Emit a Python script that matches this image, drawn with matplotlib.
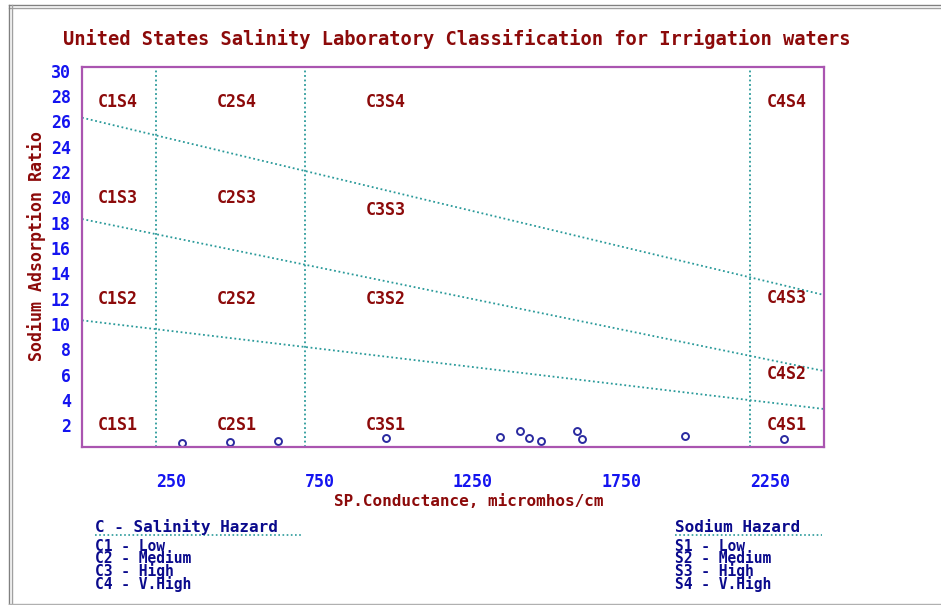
import numpy as np
import matplotlib
matplotlib.use("Agg")
import matplotlib.pyplot as plt
from matplotlib.lines import Line2D
from matplotlib.transforms import ScaledTranslation

# sample points (EC in micromhos/cm, SAR)
ec = [336, 497, 662, 1025, 1410, 1475, 1506, 1545, 1669, 1686, 2031, 2366]
sar = [0.29, 0.42, 0.50, 0.71, 0.81, 1.24, 0.73, 0.50, 1.24, 0.61, 0.84, 0.61]

# class boundaries
c_bounds = [250, 750, 2250]
s_bound_x = [0, 2500]
s_bounds = [[10, 3], [18, 6], [26, 12]]

x_ticks = [250, 750, 1250, 1750, 2250]
y_ticks = list(range(2, 31, 2))

zone_names = ["C1S4", "C2S4", "C3S4", "C4S4",
              "C1S3", "C2S3", "C3S3", "C4S3",
              "C1S2", "C2S2", "C3S2", "C4S2",
              "C1S1", "C2S1", "C3S1", "C4S1"]
zone_pos = [(121, 27.2), (523, 27.2), (1022, 27.2), (2375, 27.2),
            (121, 19.65), (523, 19.65), (1022, 18.7), (2375, 11.76),
            (121, 11.68), (523, 11.68), (1022, 11.68), (2375, 5.76),
            (121, 1.74), (523, 1.74), (1022, 1.74), (2375, 1.74)]

sal_title = "C - Salinity Hazard"
sal_items = ["C1 - Low", "C2 - Medium", "C3 - High", "C4 - V.High"]
sod_title = "Sodium Hazard"
sod_items = ["S1 - Low", "S2 - Medium", "S3 - High", "S4 - V.High"]

DARKRED = "#8c0a0a"
BLUE = "#1414f0"
NAVY = "#0a0a8c"
TEAL = "#2a9a9a"
PURPLE = "#aa55b0"
FONT = "DejaVu Sans Mono"

W, H = 941, 605
fig = plt.figure(figsize=(W / 100, H / 100), dpi=100)
fig.patch.set_facecolor("white")

def fx(px):
    return px / W

def fy(py):
    return 1 - py / H

ax = fig.add_axes([fx(82), fy(447), fx(824) - fx(82), fy(67) - fy(447)])
ax.set_xlim(0, 2500)
ax.set_ylim(0, 30)

for sp in ax.spines.values():
    sp.set_color(PURPLE)
    sp.set_linewidth(1.6)

for c in c_bounds:
    ax.plot([c, c], [0, 30], color=TEAL, ls=(0, (1, 1.5)), lw=1.3)
for yy in s_bounds:
    ax.plot(s_bound_x, yy, color=TEAL, ls=(0, (1, 1.5)), lw=1.3)

ax.plot(ec, sar, ls="none", marker="o", ms=5, mfc="none", mec="#2a2aa0", mew=1.4,
        clip_on=False)

for name, (zx, zy) in zip(zone_names, zone_pos):
    ax.text(zx, zy, name, color=DARKRED, family=FONT, weight="bold", fontsize=12,
            ha="center", va="center")

ax.set_xticks(x_ticks)
ax.set_yticks(y_ticks)
ax.tick_params(length=0, labelsize=12, labelcolor=BLUE)
ax.tick_params(axis="x", pad=19)
ax.tick_params(axis="y", pad=8)
for lab in ax.get_xticklabels():
    lab.set_ha("left")
    lab.set_family(FONT)
    lab.set_weight("bold")
for lab in ax.get_yticklabels():
    lab.set_family(FONT)
    lab.set_weight("bold")
    lab.set_transform(lab.get_transform() + ScaledTranslation(0, -3.5 / 100, fig.dpi_scale_trans))

fig.text(fx(457), fy(39), "United States Salinity Laboratory Classification for Irrigation waters",
         color=DARKRED, family=FONT, weight="bold", fontsize=13.5, ha="center", va="center")
fig.text(fx(37), fy(246), "Sodium Adsorption Ratio", color=DARKRED, family=FONT,
         weight="bold", fontsize=12, rotation=90, ha="center", va="center")
fig.text(fx(469), fy(501), "SP.Conductance, micromhos/cm", color=DARKRED, family=FONT,
         weight="bold", fontsize=11.5, ha="center", va="center")

for x0, x1, ttl, items in [(95, 302, sal_title, sal_items), (675, 822, sod_title, sod_items)]:
    fig.text(fx(x0), fy(527), ttl, color=NAVY, family=FONT, weight="bold", fontsize=11.5,
             ha="left", va="center")
    fig.add_artist(Line2D([fx(x0), fx(x1)], [fy(535), fy(535)], transform=fig.transFigure,
                          color=TEAL, ls=(0, (1, 1.5)), lw=1.2))
    fig.text(fx(x0), fy(539), "\n".join(items), color=NAVY, family=FONT, weight="bold",
             fontsize=10.5, ha="left", va="top", linespacing=0.76)

# window border
for yy, col in [(5, "#808080"), (8, "#a0a0a0")]:
    fig.add_artist(Line2D([fx(9), 1], [fy(yy), fy(yy)], transform=fig.transFigure, color=col, lw=1))
for xx, col in [(9, "#808080"), (12, "#a0a0a0")]:
    fig.add_artist(Line2D([fx(xx), fx(xx)], [fy(5), 0], transform=fig.transFigure, color=col, lw=1))
fig.add_artist(Line2D([fx(9), 1], [fy(603.5), fy(603.5)], transform=fig.transFigure, color="#b0b0b0", lw=1))

fig.savefig("out.png", dpi=100, facecolor="white")
